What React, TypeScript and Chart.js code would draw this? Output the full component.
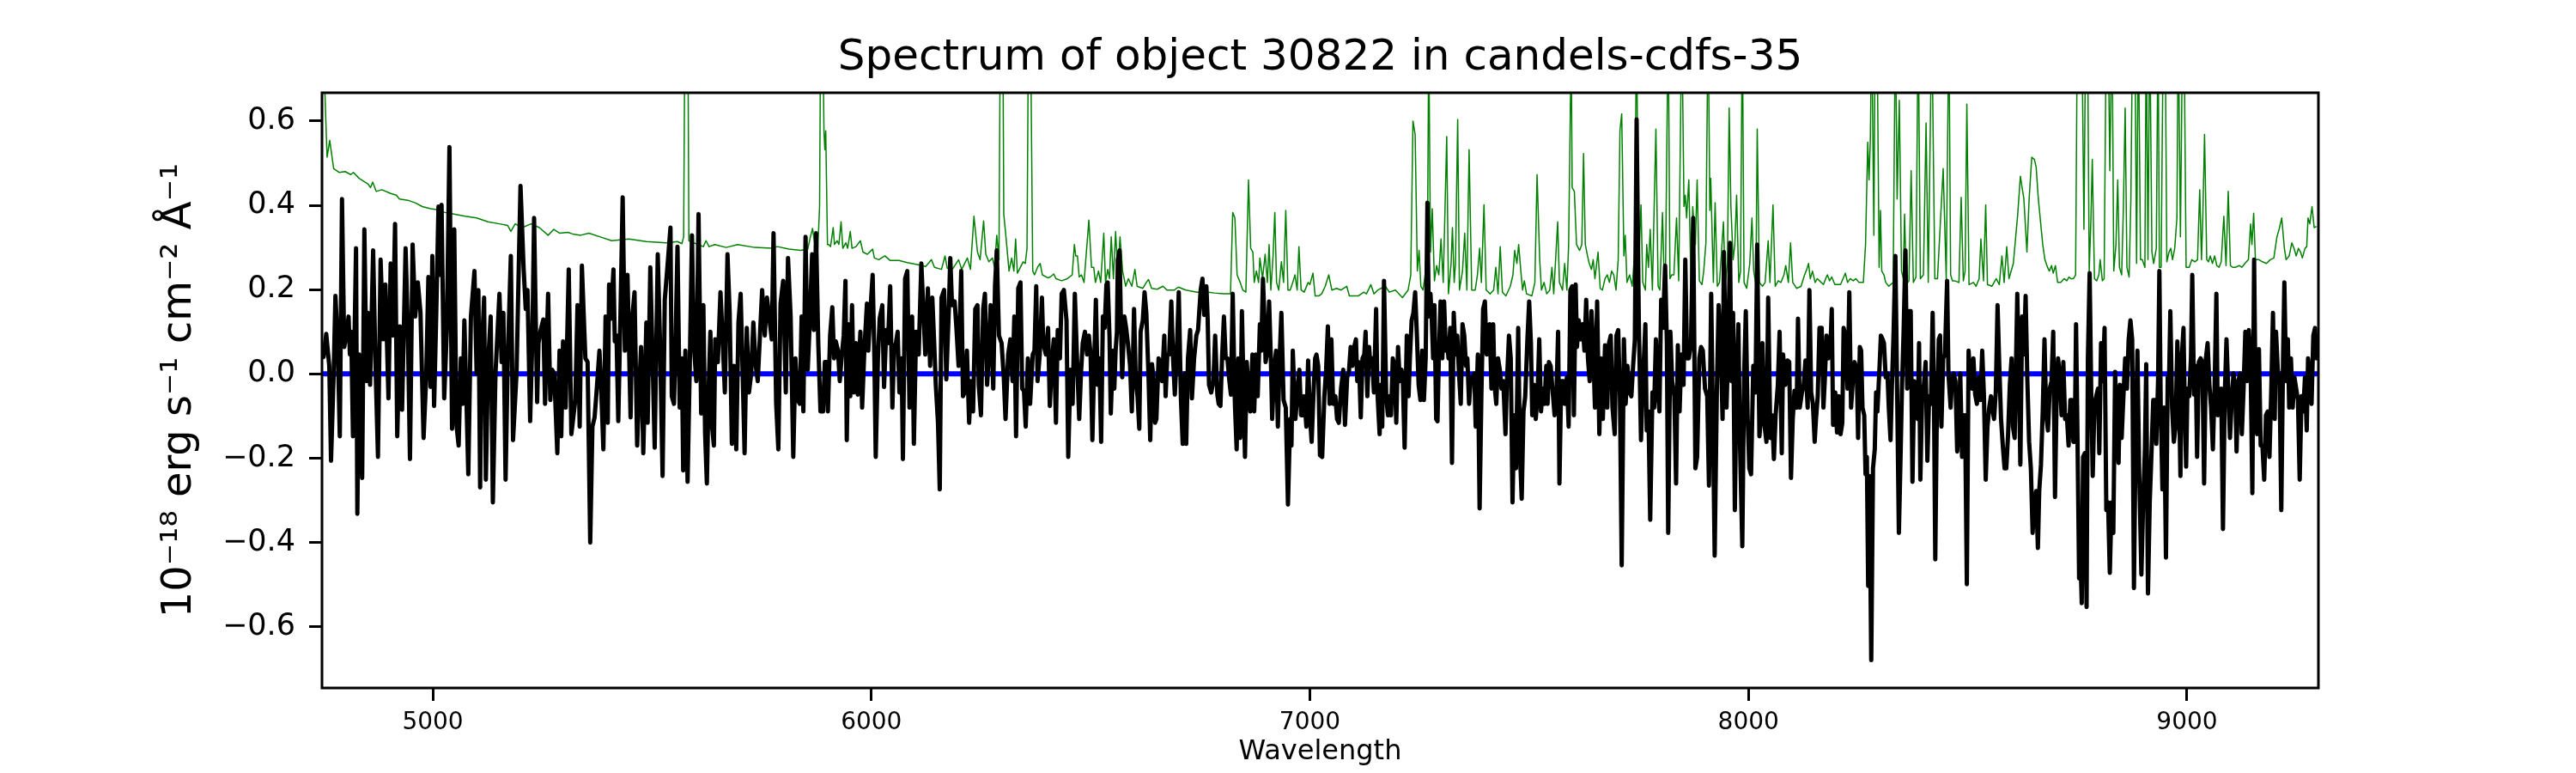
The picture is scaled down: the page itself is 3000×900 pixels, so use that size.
import React, { useEffect, useRef } from "react";
import { Chart, registerables } from "chart.js";

Chart.register(...registerables);

const TITLE = "Spectrum of object 30822 in candels-cdfs-35";
const X_LABEL = "Wavelength";
const Y_LABEL = "10⁻¹⁸ erg s⁻¹ cm⁻² Å⁻¹";
const X_MIN = 4747.4;
const X_MAX = 9299.6;
const Y_MIN = -0.745;
const Y_MAX = 0.667;
const xTicks = [5000, 6000, 7000, 8000, 9000];
const yTicks = [-0.6, -0.4, -0.2, 0, 0.2, 0.4, 0.6];

// Observed flux (black)
const fluxWavelength = [
  4748, 4751, 4757, 4764, 4768, 4774, 4778, 4783, 4788, 4793, 4798, 4803, 4808, 4811, 4814, 4818, 4821, 4825, 4828, 4832,
  4839, 4844, 4849, 4852, 4857, 4864, 4869, 4875, 4881, 4887, 4892, 4899, 4904, 4909, 4914, 4919, 4925, 4930, 4938, 4943,
  4948, 4954, 4960, 4966, 4972, 4979, 4985, 4990, 4995, 4999, 5003, 5008, 5013, 5016, 5020, 5026, 5032, 5038, 5044, 5049,
  5054, 5059, 5064, 5068, 5072, 5077, 5081, 5087, 5095, 5100, 5104, 5108, 5111, 5117, 5121, 5126, 5132, 5137, 5143, 5152,
  5157, 5161, 5166, 5171, 5178, 5183, 5191, 5200, 5207, 5212, 5216, 5222, 5227, 5231, 5238, 5241, 5246, 5252, 5256, 5263,
  5268, 5272, 5277, 5284, 5289, 5293, 5297, 5303, 5310, 5316,
  5325, 5330, 5335, 5340, 5344, 5348, 5353, 5359, 5364, 5369, 5374, 5380, 5384, 5389, 5394, 5399, 5402, 5406, 5412, 5415,
  5419, 5423, 5428, 5433, 5438, 5444, 5451, 5455, 5460, 5466, 5470, 5475, 5480, 5487, 5490, 5496, 5501, 5506, 5513, 5518,
  5524, 5529, 5535, 5542, 5545, 5550, 5553, 5558, 5563, 5568, 5571, 5576, 5581, 5586, 5591, 5595, 5601, 5606, 5612, 5617,
  5621, 5625, 5629, 5633, 5636, 5641, 5644, 5650, 5656, 5661, 5666, 5672, 5677, 5682, 5687, 5692, 5697, 5702, 5706, 5711,
  5716, 5721, 5726, 5731, 5736, 5741, 5746, 5751, 5757, 5762, 5768, 5773, 5777, 5783, 5788, 5793, 5799, 5805, 5810, 5816,
  5822, 5827, 5832, 5837, 5841, 5845, 5850, 5855, 5859, 5865, 5869, 5874, 5879, 5884,
  5890, 5894, 5898, 5901, 5906, 5911, 5915, 5919, 5924, 5928, 5932, 5937, 5941, 5944, 5948, 5952, 5956, 5960, 5965, 5969,
  5975, 5979, 5984, 5990, 5993, 5997, 6003, 6007, 6010, 6015, 6019, 6025, 6029, 6034, 6038, 6043, 6048, 6052, 6056, 6060,
  6064, 6069, 6072, 6077, 6082, 6087, 6093, 6097, 6102, 6108, 6114, 6119, 6123, 6129, 6134, 6139, 6143, 6147, 6152, 6156,
  6160, 6166, 6171, 6177, 6180, 6184, 6190, 6194, 6199, 6205, 6209, 6214, 6218, 6223, 6227, 6232, 6237, 6242, 6245, 6250,
  6255, 6259, 6264, 6268, 6272, 6278, 6282, 6286, 6291, 6297, 6302, 6306, 6312, 6317, 6322, 6326, 6330, 6335, 6340, 6344,
  6348, 6352, 6357, 6362, 6368, 6372, 6376, 6379, 6384, 6389, 6392, 6398, 6403, 6407, 6411, 6416, 6421, 6425, 6430, 6434,
  6439, 6445, 6449, 6454,
  6459, 6464, 6469, 6474, 6478, 6482, 6487, 6492, 6496, 6500, 6504, 6508, 6512, 6516, 6520, 6524, 6528, 6532, 6536, 6539,
  6543, 6546, 6551, 6554, 6557, 6560, 6562, 6566, 6569, 6572, 6577, 6581, 6585, 6590, 6594, 6597, 6599, 6603, 6607, 6611,
  6614, 6619, 6623, 6627, 6632, 6636, 6640, 6644, 6647, 6650, 6655, 6659, 6663, 6668, 6671, 6675, 6679, 6684, 6688, 6692,
  6696, 6701, 6706, 6710, 6715, 6718, 6722, 6727, 6731, 6736, 6741, 6745, 6751, 6755, 6759, 6764, 6767, 6770, 6775, 6780,
  6784, 6789, 6792, 6796, 6800, 6804, 6808, 6812, 6816, 6820, 6824, 6829, 6833, 6837, 6841, 6845, 6849, 6852, 6856, 6860,
  6864, 6869, 6873, 6877, 6881, 6886, 6889, 6893, 6897, 6899, 6903, 6907, 6911, 6914, 6919, 6923, 6927, 6931, 6935, 6940,
  6945, 6950, 6955, 6958, 6961, 6967, 6971, 6976, 6980, 6984, 6987, 6992, 6996, 7000, 7004, 7008, 7012, 7015, 7019, 7023,
  7028, 7033, 7037, 7041, 7045, 7049, 7053, 7058, 7062, 7066, 7071, 7076, 7080, 7085, 7089, 7093, 7097, 7101, 7105, 7108,
  7112, 7116, 7120, 7124, 7127, 7131, 7135, 7138, 7142, 7146, 7151, 7154, 7159, 7162, 7165, 7169, 7174, 7178, 7181, 7185,
  7189, 7193, 7197, 7201, 7205, 7209, 7212, 7216, 7221, 7225, 7228, 7232, 7236, 7240, 7244, 7248, 7252, 7256, 7260, 7264,
  7268, 7271, 7275, 7278, 7281, 7284, 7288, 7291, 7294, 7298, 7302, 7306, 7310, 7313, 7316, 7320, 7324, 7328, 7332, 7336,
  7340, 7344, 7348, 7352, 7356, 7359, 7363, 7367, 7371, 7375, 7378, 7383, 7387, 7391, 7395, 7399, 7403, 7406, 7410, 7414,
  7418, 7421, 7425, 7429, 7433, 7437, 7441, 7446, 7449, 7454, 7458, 7462, 7466, 7470, 7475, 7479, 7483, 7487, 7491, 7496,
  7500, 7504, 7507, 7512, 7515, 7519, 7523, 7527, 7531, 7535, 7539, 7542, 7545, 7549, 7553, 7558, 7562, 7566, 7569, 7573,
  7578, 7581, 7586, 7590, 7594,
  7598, 7602, 7606, 7609, 7613, 7618, 7622, 7626, 7630, 7634, 7638, 7642, 7646, 7650, 7655, 7660, 7664, 7668, 7673, 7678,
  7682, 7686, 7690, 7695, 7699, 7703, 7707, 7711, 7716, 7720, 7724, 7729, 7733, 7737, 7741, 7745, 7750, 7755, 7759, 7765,
  7768, 7772, 7776, 7781, 7785, 7789, 7793, 7797, 7801, 7805, 7810, 7814, 7817, 7822, 7826, 7831, 7835, 7839, 7843, 7847,
  7852, 7856, 7860, 7864, 7869, 7874, 7879, 7883, 7888, 7892, 7896, 7901, 7906, 7910, 7915, 7919, 7923, 7928, 7932, 7937,
  7941, 7944, 7950, 7954, 7958, 7961, 7965, 7969, 7973, 7977, 7981, 7986, 7990, 7994, 7998, 8002, 8006, 8011, 8016, 8020,
  8025, 8028, 8032, 8036, 8041, 8045, 8050, 8054, 8058, 8062, 8067, 8071, 8076, 8079, 8084, 8089, 8093, 8097, 8101, 8105,
  8110, 8113, 8117, 8122, 8126, 8130, 8135, 8139, 8143, 8147, 8151, 8154, 8158, 8162,
  8167, 8171, 8174, 8178, 8182, 8187, 8190, 8193, 8198, 8202, 8206, 8210, 8214, 8217, 8221, 8226, 8230, 8234, 8238, 8242,
  8247, 8250, 8254, 8257, 8260, 8264, 8267, 8270, 8273, 8276, 8280, 8284, 8288, 8291, 8294, 8299, 8302, 8306, 8309, 8313,
  8317, 8320, 8324, 8327, 8331, 8335, 8339, 8343, 8347, 8350, 8354, 8358, 8362, 8366, 8370, 8374, 8378, 8382, 8386, 8389,
  8392, 8396, 8400, 8404, 8408, 8412, 8416, 8420, 8423, 8426, 8429, 8434, 8437, 8440, 8444, 8448, 8453, 8456, 8461, 8464,
  8468, 8472, 8476, 8480, 8483, 8487, 8490, 8494, 8498, 8502, 8506, 8510, 8513, 8517, 8521, 8525, 8529, 8533, 8537, 8541,
  8545, 8549, 8553, 8556, 8560, 8564, 8568, 8572, 8576, 8580, 8584, 8588, 8592, 8596, 8600, 8603, 8607, 8613, 8616, 8620,
  8624, 8628, 8632, 8636, 8640, 8644, 8648, 8652, 8656, 8660, 8663, 8667, 8671, 8675, 8679, 8683, 8687, 8691, 8695, 8699,
  8703, 8706, 8710, 8714, 8718, 8722, 8726, 8730, 8734,
  8737, 8741, 8744, 8747, 8750, 8754, 8757, 8760, 8763, 8767, 8771, 8774, 8778, 8782, 8785, 8789, 8793, 8797, 8800, 8804,
  8808, 8812, 8816, 8820, 8824, 8828, 8832, 8836, 8840, 8844, 8847, 8851, 8855, 8859, 8863, 8867, 8871, 8875, 8879, 8883,
  8887, 8891, 8896, 8900, 8904, 8907, 8911, 8915, 8919, 8923, 8927, 8930, 8934, 8937, 8940, 8944, 8948, 8952, 8956, 8959,
  8962, 8966, 8970, 8974, 8978, 8982, 8985, 8988, 8992, 8995, 8998, 9001, 9005, 9009, 9012, 9016, 9020, 9023, 9027, 9031,
  9035, 9039, 9043, 9047, 9051, 9055, 9059, 9063, 9067, 9070, 9074, 9078, 9082, 9086, 9090, 9094, 9098, 9102, 9106, 9110,
  9113, 9117, 9121, 9125, 9129, 9133, 9137, 9141, 9145, 9149, 9153, 9156, 9160, 9164, 9168, 9172, 9176, 9180, 9184, 9188,
  9192, 9196, 9200, 9203, 9207, 9211, 9215, 9219, 9222, 9226, 9230, 9233, 9237, 9241, 9245, 9249, 9253, 9257, 9261, 9265,
  9269, 9273, 9276, 9280, 9284, 9288, 9292, 9295,
];
const flux = [
  0.05, 0.04, 0.095, 0.019, -0.206, 0.001, 0.185, 0.082, -0.148, 0.415, 0.064, 0.091, 0.136, 0.046, 0.1, -0.148, 0.046, 0.298, -0.332, 0.046,
  -0.247, 0.343, -0.017, 0.145, -0.026, 0.293, 0.037, -0.197, 0.271, 0.082, 0.212, -0.058, 0.262, 0.091, 0.356, -0.148, 0.113, -0.085, 0.298, 0.113,
  -0.202, 0.307, 0.136, 0.217, 0.145, -0.152, -0.008, 0.23, -0.031, 0.28, -0.076, 0.145, 0.397, 0.235, 0.401, -0.058, 0.104, 0.538, -0.13, 0.343,
  -0.121, -0.17, 0.037, -0.071, 0.127, -0.071, -0.238, 0.136, 0.244, 0.001, 0.199, -0.269, 0.037, 0.181, -0.251, 0.023, 0.136, -0.305, 0.001, 0.19,
  0.028, 0.145, -0.251, 0.037, 0.28, -0.157, 0.001, 0.446, 0.253, 0.154, 0.199, -0.112, 0.082, 0.37, -0.067, 0.073, 0.104, 0.129, -0.071, 0.19,
  -0.062, 0.01, 0.001, -0.188, 0.055, -0.148, 0.077, -0.08, 0.248, -0.143,
  -0.062, 0.163, -0.125, 0.257, 0.145, 0.037, 0.028, -0.4, -0.125, -0.103, -0.035, 0.055, -0.035, -0.179, 0.136, -0.116, 0.212, 0.131, 0.248, 0.077,
  0.091, -0.112, 0.145, 0.419, 0.055, 0.235, -0.103, 0.136, 0.194, -0.17, -0.053, 0.064, -0.188, 0.122, -0.116, 0.253, 0.046, -0.175, 0.284, 0.082,
  -0.242, 0.176, 0.253, 0.347, -0.053, -0.071, 0.046, 0.302, -0.08, 0.037, -0.229, 0.055, -0.256, 0.019, 0.329, 0.073, -0.017, 0.379, -0.094, 0.163,
  -0.143, -0.26, -0.035, 0.1, -0.116, -0.17, 0.082, 0.028, 0.194, 0.082, -0.044, 0.284, 0.145, -0.166, 0.019, -0.179, 0.122, 0.19, 0.028, -0.188,
  0.109, -0.044, 0.001, 0.122, 0.023, -0.017, 0.091, 0.199, 0.091, 0.181, 0.127, 0.082, 0.334, -0.071, -0.179, 0.167, 0.221, -0.044, 0.275, 0.136,
  -0.197, 0.037, -0.062, -0.071, 0.136, -0.089, 0.325, 0.01, 0.109, 0.284, 0.104, 0.334, 0.073, -0.089,
  -0.089, 0.028, 0.028, -0.089, 0.091, 0.158, 0.037, 0.077, 0.055, -0.017, 0.037, 0.091, 0.221, -0.157, 0.118, -0.053, 0.163, -0.044, 0.073, -0.049,
  0.1, -0.08, 0.055, 0.167, 0.055, 0.136, 0.235, 0.037, -0.197, 0.037, 0.131, 0.163, -0.031, 0.104, 0.073, 0.208, -0.08, 0.064, 0.073, 0.1,
  -0.044, 0.037, -0.202, 0.226, 0.244, -0.08, 0.136, -0.166, 0.1, 0.046, 0.262, 0.145, 0.046, 0.203, 0.019, 0.181, 0.082, -0.026, -0.116, -0.274,
  0.181, 0.199, -0.013, 0.163, 0.275, 0.163, 0.172, 0.109, 0.019, 0.244, -0.053, -0.04, 0.055, -0.116, -0.017, -0.089, 0.154, 0.163, -0.026, -0.098,
  0.154, 0.19, -0.026, 0.046, 0.163, -0.035, 0.208, 0.293, 0.091, 0.073, -0.008, -0.107, 0.046, 0.082, -0.017, 0.136, -0.148, 0.203, 0.217, -0.035,
  -0.04, -0.125, 0.037, -0.071, 0.046, 0.055, 0.208, -0.017, 0.046, 0.181, 0.073, 0.046, 0.109, -0.076, 0.019, 0.082, -0.116, 0.104, 0.037, 0.19,
  0.199, 0.127, -0.197, 0.01,
  -0.071, 0.19, 0.037, -0.107, 0.001, 0.073, 0.1, 0.046, 0.091, 0.046, -0.157, 0.019, 0.176, -0.026, 0.037, -0.161, 0.136, 0.109, 0.212, 0.217,
  0.091, -0.094, 0.055, -0.035, 0.055, 0.1, 0.271, 0.293, 0.127, -0.008, 0.136, 0.109, 0.073, 0.019, -0.089, 0.055, 0.154, -0.017, -0.053, -0.13,
  0.1, 0.127, 0.194, 0.145, -0.004, -0.157, 0.023, -0.017, -0.116, -0.107, 0.037, 0.028, -0.017, 0.091, -0.053, 0.046, 0.046, 0.172, 0.037, -0.049,
  0.037, 0.194, -0.062, -0.166, 0.001, -0.166, 0.037, 0.104, -0.058, 0.037, 0.091, 0.104, 0.199, 0.226, 0.14, 0.208, 0.127, -0.026, -0.044, -0.017,
  0.091, -0.049, -0.071, -0.076, 0.046, 0.136, 0.037, 0.037, -0.013, -0.049, 0.19, -0.071, -0.179, 0.037, -0.152, 0.149, -0.053, -0.197, 0.028, -0.035,
  -0.089, 0.046, -0.089, 0.046, -0.053, 0.118, 0.055, 0.226, 0.113, 0.028, 0.055, 0.172, 0.037, -0.107, 0.019, 0.055, -0.125, 0.037, 0.145, -0.062,
  -0.08, -0.31, -0.107, -0.17, 0.055, -0.107, -0.053, 0.01, -0.098, -0.098, -0.053, -0.125, 0.032, -0.098, -0.161, -0.053, 0.037, 0.046, 0.019, -0.193,
  -0.197, -0.053, 0.01, 0.113, -0.071, 0.082, -0.071, -0.053, -0.107, -0.116, -0.035, 0.01, -0.121, -0.008, 0.005, 0.064, 0.019, 0.064, 0.082, -0.017,
  0.028, -0.103, 0.037, 0.046, 0.1, -0.053, 0.064, 0.019, 0.037, -0.044, 0.154, -0.044, -0.143, -0.026, -0.125, 0.221, -0.053, -0.098, -0.053, -0.098,
  0.037, 0.019, -0.116, 0.064, -0.017, 0.01, -0.017, -0.175, 0.091, -0.053, 0.037, 0.127, 0.145, 0.194, 0.091, -0.026, -0.062, 0.055, -0.062, 0.037,
  0.406, 0.136, 0.19, 0.127, 0.037, 0.163, -0.107, -0.112, 0.037, 0.172, 0.037, 0.172, 0.055, 0.082, 0.037, 0.109, -0.211, 0.145, 0.046, 0.091,
  0.001, -0.071, 0.118, 0.091, 0.019, 0.037, -0.071, -0.008, -0.017, 0.001, -0.125, 0.046, -0.319, -0.053, 0.154, 0.172, 0.046, 0.091, 0.118, -0.035,
  0.118, -0.026, -0.071, 0.037, 0.01, -0.035, -0.017, -0.143, -0.026, 0.091, 0.037, -0.305, -0.098, -0.224, 0.109, -0.188, -0.296, -0.089, -0.053, 0.082,
  0.172, 0.073, -0.098, -0.026, -0.107, -0.053, 0.082, -0.089, -0.035, -0.071, 0.019, -0.071, 0.028, 0.019, -0.035, -0.098, -0.053, 0.1, -0.26, -0.017,
  -0.017, -0.071, -0.008, -0.125, 0.199,
  0.208, -0.098, 0.212, 0.064, 0.127, 0.082, 0.118, 0.055, 0.176, 0.037, -0.017, 0.149, 0.064, -0.08, 0.172, -0.143, 0.037, -0.107, 0.068, -0.08,
  0.073, 0.091, -0.08, -0.143, 0.091, 0.104, -0.053, -0.454, 0.082, -0.071, 0.019, -0.044, -0.053, 0.019, 0.082, 0.604, 0.127, -0.157, -0.026, 0.118,
  -0.134, -0.089, -0.346, -0.044, -0.08, 0.082, -0.035, -0.089, 0.176, 0.109, 0.257, 0.073, -0.377, 0.1, -0.017, -0.053, -0.26, 0.068, -0.089, 0.046,
  -0.026, 0.271, 0.037, 0.037, 0.073, 0.37, -0.224, -0.197, 0.037, 0.064, 0.055, -0.035, -0.053, -0.265, 0.19, -0.107, -0.431, -0.035, 0.163, 0.055,
  -0.107, 0.289, -0.08, 0.073, 0.311, -0.017, 0.145, -0.323, 0.001, 0.118, -0.179, -0.409, -0.008, 0.149, -0.098, -0.224, -0.238, 0.019, -0.044, 0.307,
  -0.148, -0.107, 0.073, -0.116, -0.161, 0.181, -0.152, -0.098, -0.202, -0.098, -0.026, 0.1, -0.188, 0.046, -0.026, 0.032, 0.028, -0.247, -0.107, -0.04,
  -0.08, 0.131, -0.08, -0.044, -0.026, 0.032, -0.08, 0.199, -0.044, -0.071, -0.161, -0.107, -0.053, 0.109,
  0.109, -0.08, -0.017, 0.091, 0.037, 0.064, 0.154, -0.121, -0.044, -0.139, -0.053, -0.143, -0.116, 0.109, 0.091, -0.035, 0.194, -0.08, -0.017, 0.028,
  0.01, -0.152, 0.064, 0.055, -0.08, -0.098, -0.238, -0.197, -0.503, -0.242, -0.679, -0.224, -0.179, -0.044, -0.089, 0.019, 0.091, 0.082, 0.073, -0.008,
  0.001, -0.08, -0.157, -0.035, 0.1, 0.28, -0.035, -0.377, -0.188, -0.035, 0.109, 0.293, -0.035, 0.149, 0.149, -0.256, -0.017, -0.026, -0.107, 0.073,
  -0.251, -0.053, -0.026, 0.028, -0.206, -0.053, -0.071, 0.145, -0.053, -0.44, -0.143, 0.082, 0.091, -0.125, 0.037, 0.046, 0.221, 0.001, -0.08, -0.017,
  0.001, -0.017, -0.184, -0.107, 0.001, -0.197, -0.098, -0.098, -0.499, 0.055, -0.017, -0.035, 0.037, -0.049, -0.071, -0.008, -0.062, 0.055, -0.053, -0.251,
  -0.125, -0.08, -0.053, -0.08, -0.107, -0.044, 0.163, 0.019, -0.107, -0.17, -0.224, -0.224, -0.143, -0.026, 0.037, -0.125, -0.152, 0.19, 0.037, -0.215,
  0.136, 0.046, 0.185, -0.017, -0.161, -0.224, -0.377, -0.305, -0.278, -0.413, -0.278, -0.215, -0.089, 0.082, -0.098, -0.134, -0.035, -0.017, 0.1, -0.292,
  -0.035, 0.037, -0.008, -0.098, 0.028, -0.107, -0.098, -0.17, -0.062,
  -0.062, -0.161, -0.161, 0.118, -0.125, -0.485, -0.431, -0.544, -0.197, -0.188, -0.553, 0.037, 0.239, -0.071, -0.242, -0.071, -0.053, -0.035, -0.188, 0.073,
  -0.017, 0.109, -0.323, -0.305, -0.472, -0.305, -0.377, 0.005, -0.116, -0.211, -0.026, -0.152, -0.053, 0.037, -0.035, 0.082, 0.127, 0.082, -0.508, -0.134,
  0.055, -0.233, -0.476, -0.305, -0.179, 0.023, -0.521, -0.305, -0.188, -0.062, -0.062, -0.166, -0.017, 0.244, -0.071, -0.274, -0.08, -0.436, -0.008, -0.017,
  0.149, -0.08, -0.161, -0.125, 0.077, -0.053, -0.242, 0.037, 0.109, -0.089, -0.22, -0.035, -0.053, 0.037, 0.235, -0.049, 0.019, -0.197, 0.028, 0.037,
  0.028, -0.26, 0.037, 0.073, -0.026, -0.08, -0.179, -0.026, 0.19, -0.098, -0.062, -0.035, -0.368, -0.053, 0.082, -0.035, -0.152, -0.062, 0.001, -0.035,
  -0.184, -0.017, 0.001, -0.143, -0.035, 0.1, -0.017, 0.104, 0.019, -0.283, 0.271, -0.026, -0.143, 0.059, -0.17, -0.17, -0.251, -0.098, -0.089, -0.197,
  -0.044, 0.145, -0.107, 0.1, 0.01, -0.017, -0.323, 0.037, 0.217, -0.017, 0.082, -0.08, 0.037, -0.08, -0.008, -0.035, -0.062, -0.251, -0.053, -0.089,
  -0.008, -0.134, 0.037, -0.017, -0.071, 0.091, 0.109, 0.037,
];

// Sky / noise spectrum (green)
const skyWavelength = [
  4748, 4754, 4759, 4765, 4774, 4787, 4800, 4813, 4819, 4832, 4852, 4858, 4863, 4871, 4884, 4904, 4917, 4924, 4943, 4960,
  4976, 4995, 5008, 5028, 5048, 5074, 5100, 5126, 5152, 5171, 5178, 5188, 5204, 5224, 5243, 5263, 5276, 5289, 5308, 5319,
  5337, 5356, 5382, 5408, 5447, 5487, 5532, 5558, 5568, 5572, 5575, 5578, 5582, 5584, 5604, 5617, 5623, 5630, 5643, 5669,
  5695, 5734, 5773, 5786, 5812, 5839, 5855, 5861, 5866, 5871, 5878, 5882, 5884,
  5888, 5892, 5894, 5896, 5900, 5903, 5907, 5913, 5916, 5922, 5926, 5931, 5935, 5942, 5946, 5952, 5956, 5965, 5975, 5981,
  5991, 6003, 6007, 6017, 6031, 6043, 6063, 6082, 6102, 6115, 6124, 6137, 6144, 6160, 6168, 6173, 6186, 6199, 6206, 6219,
  6226, 6234, 6242, 6248, 6256, 6261, 6268, 6276, 6281, 6286, 6291, 6295, 6299, 6302, 6307, 6314, 6320, 6325, 6329, 6333,
  6340, 6346, 6351, 6355, 6359, 6362, 6368, 6372, 6379, 6385, 6390, 6402, 6408, 6416, 6421, 6434, 6447, 6458,
  6463, 6466, 6470, 6474, 6479, 6485, 6496, 6502, 6507, 6511, 6518, 6523, 6530, 6534, 6539, 6543, 6547, 6552, 6557, 6562,
  6567, 6573, 6580, 6586, 6594, 6601, 6606, 6619, 6627, 6632, 6639, 6652, 6665, 6674, 6691, 6700, 6717, 6743, 6769, 6782,
  6802, 6819, 6824, 6829, 6834, 6841, 6847, 6854, 6860, 6865, 6870, 6873, 6878, 6883, 6886, 6892, 6898, 6903, 6907, 6911,
  6916, 6920, 6924, 6929, 6935, 6940, 6945, 6950, 6955, 6961, 6966, 6971, 6975, 6980, 6987, 6996, 7000, 7007, 7012, 7020,
  7027, 7035, 7043, 7050, 7061, 7071, 7084, 7090, 7110, 7123, 7129, 7139, 7146, 7155, 7172, 7181, 7195, 7211, 7224, 7230,
  7235, 7240, 7245, 7249, 7253, 7258, 7264, 7268, 7271, 7275, 7279, 7284, 7289, 7294, 7299, 7304, 7307, 7312, 7316, 7322,
  7325, 7329, 7332, 7337, 7341, 7348, 7353, 7358, 7363, 7369, 7377, 7382, 7387, 7391, 7397, 7402, 7411, 7419, 7424, 7429,
  7434, 7439, 7447, 7457, 7463, 7467, 7472, 7476, 7481, 7485, 7489, 7494, 7506, 7513, 7518, 7524, 7528, 7534, 7540, 7547,
  7552, 7556, 7565, 7569, 7576, 7581, 7586, 7590, 7594, 7596,
  7598, 7603, 7608, 7615, 7620, 7624, 7628, 7633, 7637, 7642, 7646, 7650, 7657, 7662, 7667, 7673, 7678, 7683, 7688, 7693,
  7698, 7703, 7707, 7711, 7716, 7719, 7723, 7729, 7735, 7740, 7745, 7749, 7755, 7759, 7765, 7768, 7772, 7776, 7781, 7785,
  7789, 7794, 7798, 7804, 7808, 7811, 7817, 7821, 7825, 7830, 7836, 7841, 7848, 7853, 7856, 7859, 7864, 7869, 7873, 7879,
  7883, 7888, 7894, 7898, 7903, 7908, 7912, 7914, 7920, 7924, 7929, 7934, 7943, 7947, 7952, 7956, 7960, 7965, 7969, 7973,
  7978, 7982, 7986, 7990, 7996, 8003, 8008, 8012, 8017, 8020, 8025, 8032, 8038, 8045, 8049, 8056, 8061, 8068, 8074, 8081,
  8085, 8091, 8096, 8101, 8110, 8120, 8128, 8133, 8137, 8141, 8146, 8152, 8157, 8166,
  8171, 8176, 8180, 8185, 8190, 8197, 8210, 8221, 8226, 8232, 8239, 8245, 8252, 8262, 8267, 8272, 8275, 8278, 8281, 8286,
  8289, 8293, 8298, 8301, 8304, 8309, 8313, 8320, 8330, 8335, 8339, 8344, 8349, 8353, 8356, 8360, 8366, 8371, 8376, 8382,
  8387, 8392, 8399, 8405, 8410, 8418, 8425, 8431, 8444, 8451, 8457, 8461, 8465, 8470, 8480, 8485, 8490, 8494, 8498, 8503,
  8513, 8519, 8526, 8530, 8536, 8541, 8545, 8555, 8565, 8572, 8578, 8583, 8589, 8594, 8604, 8614, 8620, 8628, 8635, 8640,
  8646, 8652, 8656, 8661, 8666, 8671, 8676, 8682, 8686, 8691, 8695, 8700, 8705, 8712, 8720, 8726, 8731, 8735,
  8741, 8746, 8750, 8755, 8760, 8765, 8769, 8773, 8777, 8781, 8784, 8789, 8794, 8799, 8802, 8807, 8811, 8816, 8820, 8824,
  8829, 8833, 8838, 8842, 8846, 8851, 8855, 8859, 8863, 8868, 8872, 8876, 8881, 8885, 8889, 8894, 8898, 8904, 8907, 8911,
  8915, 8920, 8924, 8930, 8934, 8937, 8941, 8946, 8950, 8954, 8959, 8963, 8967, 8972, 8977, 8980, 8985, 8990, 8993, 8998,
  9005, 9011, 9018, 9024, 9029, 9033, 9036, 9040, 9045, 9049, 9053, 9058, 9063, 9068, 9073, 9078, 9084, 9089, 9094, 9099,
  9104, 9111, 9119, 9125, 9132, 9140, 9145, 9148, 9152, 9156, 9164, 9172, 9181, 9190, 9198, 9205, 9210, 9216, 9222, 9226,
  9233, 9239, 9244, 9249, 9254, 9259, 9263, 9269, 9273, 9276, 9280, 9285, 9290, 9295,
];
const sky = [
  0.76, 0.667, 0.514, 0.554, 0.487, 0.478, 0.48, 0.473, 0.478, 0.464, 0.451, 0.442, 0.455, 0.433, 0.437, 0.428, 0.424, 0.415, 0.412, 0.406,
  0.397, 0.392, 0.39, 0.383, 0.379, 0.374, 0.37, 0.361, 0.356, 0.352, 0.338, 0.356, 0.347, 0.356, 0.347, 0.329, 0.343, 0.334, 0.336, 0.332,
  0.329, 0.334, 0.325, 0.316, 0.32, 0.314, 0.311, 0.314, 0.309, 0.325, 0.85, 0.94, 0.76, 0.316, 0.307, 0.302, 0.316, 0.302, 0.307, 0.3,
  0.307, 0.3, 0.298, 0.302, 0.296, 0.293, 0.296, 0.325, 0.345, 0.307, 0.298, 0.397, 0.76,
  0.94, 0.577, 0.532, 0.577, 0.307, 0.307, 0.302, 0.347, 0.307, 0.316, 0.307, 0.361, 0.298, 0.311, 0.298, 0.338, 0.298, 0.302, 0.316, 0.289,
  0.284, 0.296, 0.275, 0.271, 0.28, 0.269, 0.269, 0.264, 0.26, 0.257, 0.255, 0.271, 0.253, 0.248, 0.28, 0.251, 0.25, 0.271, 0.248, 0.275,
  0.248, 0.374, 0.289, 0.271, 0.363, 0.284, 0.266, 0.275, 0.253, 0.329, 0.271, 1.0, 1.0, 0.379, 0.325, 0.244, 0.275, 0.244, 0.32, 0.239,
  0.253, 0.266, 0.262, 0.298, 0.94, 0.94, 0.244, 0.235, 0.253, 0.262, 0.235, 0.228, 0.23, 0.237, 0.226, 0.221, 0.226, 0.235,
  0.307, 0.28, 0.28, 0.23, 0.235, 0.217, 0.365, 0.253, 0.253, 0.217, 0.244, 0.217, 0.334, 0.217, 0.248, 0.226, 0.325, 0.226, 0.338, 0.235,
  0.325, 0.244, 0.208, 0.226, 0.208, 0.248, 0.208, 0.203, 0.217, 0.224, 0.203, 0.201, 0.208, 0.199, 0.199, 0.206, 0.199, 0.194, 0.194, 0.192,
  0.19, 0.19, 0.383, 0.37, 0.235, 0.217, 0.199, 0.194, 0.46, 0.298, 0.289, 0.217, 0.244, 0.217, 0.275, 0.226, 0.284, 0.217, 0.307, 0.199,
  0.28, 0.383, 0.217, 0.199, 0.266, 0.217, 0.388, 0.199, 0.199, 0.217, 0.235, 0.199, 0.302, 0.199, 0.194, 0.217, 0.212, 0.239, 0.185, 0.185,
  0.19, 0.208, 0.235, 0.199, 0.203, 0.199, 0.208, 0.185, 0.185, 0.194, 0.19, 0.212, 0.19, 0.199, 0.208, 0.194, 0.199, 0.181, 0.199, 0.235,
  0.6, 0.568, 0.244, 0.293, 0.208, 0.199, 0.244, 0.28, 0.8, 0.289, 0.392, 0.221, 0.257, 0.235, 0.32, 0.217, 0.343, 0.563, 0.19, 0.262,
  0.347, 0.217, 0.262, 0.604, 0.199, 0.244, 0.334, 0.199, 0.532, 0.199, 0.199, 0.235, 0.298, 0.217, 0.401, 0.199, 0.19, 0.199, 0.253, 0.19,
  0.302, 0.194, 0.185, 0.208, 0.235, 0.293, 0.262, 0.307, 0.244, 0.199, 0.221, 0.19, 0.185, 0.217, 0.473, 0.271, 0.199, 0.217, 0.19, 0.199,
  0.253, 0.19, 0.361, 0.217, 0.199, 0.262, 0.199, 0.307, 0.64, 0.757,
  0.442, 0.433, 0.307, 0.293, 0.307, 0.523, 0.307, 0.28, 0.262, 0.248, 0.271, 0.226, 0.289, 0.203, 0.199, 0.226, 0.235, 0.217, 0.244, 0.235,
  0.199, 0.271, 0.577, 0.617, 0.28, 0.329, 0.217, 0.235, 0.208, 0.28, 0.847, 0.235, 0.401, 0.217, 0.199, 0.307, 0.253, 0.343, 0.199, 0.397,
  0.581, 0.208, 0.199, 0.383, 0.217, 0.257, 0.847, 0.226, 0.235, 0.235, 0.37, 0.221, 0.847, 0.397, 0.424, 0.37, 0.46, 0.217, 0.397, 0.307,
  0.46, 0.221, 0.212, 0.244, 0.311, 0.847, 0.388, 0.464, 0.217, 0.406, 0.208, 0.217, 0.361, 0.212, 0.262, 0.631, 0.397, 0.271, 0.307, 0.424,
  0.217, 0.244, 0.847, 0.217, 0.203, 0.262, 0.37, 0.244, 0.212, 0.581, 0.217, 0.208, 0.217, 0.316, 0.217, 0.401, 0.208, 0.221, 0.217, 0.235,
  0.257, 0.217, 0.311, 0.217, 0.203, 0.208, 0.235, 0.248, 0.262, 0.226, 0.244, 0.217, 0.226, 0.217,
  0.212, 0.226, 0.235, 0.221, 0.23, 0.212, 0.212, 0.239, 0.217, 0.226, 0.221, 0.226, 0.217, 0.217, 0.307, 0.55, 0.46, 0.559, 0.847, 0.329,
  0.847, 0.847, 0.253, 0.388, 0.244, 0.235, 0.217, 0.208, 0.217, 0.847, 0.415, 0.649, 0.244, 0.226, 0.379, 0.212, 0.221, 0.482, 0.217, 0.23,
  0.847, 0.226, 0.235, 0.595, 0.217, 0.847, 0.226, 0.226, 0.487, 0.226, 0.847, 0.235, 0.221, 0.221, 0.217, 0.419, 0.221, 0.244, 0.64, 0.212,
  0.217, 0.208, 0.226, 0.32, 0.221, 0.401, 0.212, 0.208, 0.226, 0.212, 0.28, 0.217, 0.302, 0.226, 0.262, 0.379, 0.469, 0.415, 0.289, 0.415,
  0.514, 0.509, 0.491, 0.415, 0.361, 0.307, 0.271, 0.253, 0.244, 0.257, 0.239, 0.257, 0.217, 0.217, 0.226, 0.221, 0.23, 0.226,
  0.226, 0.235, 0.847, 0.847, 0.847, 0.343, 0.847, 0.847, 0.244, 0.37, 0.509, 0.226, 0.221, 0.235, 0.271, 0.221, 0.226, 0.847, 0.847, 0.482,
  0.847, 0.244, 0.307, 0.46, 0.253, 0.235, 0.397, 0.631, 0.253, 0.23, 0.415, 0.847, 0.847, 0.262, 0.847, 0.271, 0.271, 0.253, 0.847, 0.271,
  0.847, 0.289, 0.262, 0.298, 0.847, 0.253, 0.253, 0.847, 0.847, 0.266, 0.289, 0.298, 0.271, 0.298, 0.37, 0.847, 0.325, 0.847, 0.847, 0.253,
  0.253, 0.271, 0.266, 0.271, 0.437, 0.271, 0.37, 0.568, 0.271, 0.266, 0.28, 0.262, 0.28, 0.257, 0.253, 0.266, 0.374, 0.257, 0.433, 0.257,
  0.253, 0.253, 0.257, 0.253, 0.262, 0.271, 0.356, 0.307, 0.381, 0.271, 0.271, 0.266, 0.262, 0.271, 0.275, 0.325, 0.343, 0.37, 0.298, 0.271,
  0.28, 0.311, 0.298, 0.28, 0.298, 0.289, 0.275, 0.298, 0.302, 0.37, 0.356, 0.397, 0.347, 0.35,
];

// Zero level (blue)
const zeroWavelength = [4747.4, 9299.6];
const zeroLevel = [0, 0];

const FONT = "'DejaVu Sans', sans-serif";

const toPoints = (xs: number[], ys: number[]) => xs.map((x, i) => ({ x, y: ys[i] }));

const framePlugin = {
  id: "axesFrame",
  afterDatasetsDraw(chart: any) {
    const { ctx, chartArea } = chart;
    ctx.save();
    ctx.strokeStyle = "#000";
    ctx.lineWidth = 3;
    ctx.strokeRect(
      chartArea.left,
      chartArea.top,
      chartArea.right - chartArea.left,
      chartArea.bottom - chartArea.top
    );
    ctx.restore();
  },
};

const fmtY = (v: number) => {
  const s = Math.abs(v) < 1e-9 ? "0.0" : v.toFixed(1);
  return s.replace("-", "\u2212");
};

export default function App() {
  const canvasRef = useRef<HTMLCanvasElement | null>(null);

  useEffect(() => {
    document.body.style.margin = "0";
    const canvas = canvasRef.current;
    if (!canvas) return;
    const chart = new Chart(canvas, {
      type: "line",
      data: {
        datasets: [
          {
            label: "flux",
            data: toPoints(fluxWavelength, flux),
            borderColor: "#000000",
            borderWidth: 5,
            pointRadius: 0,
            tension: 0,
            borderJoinStyle: "round",
            borderCapStyle: "round",
            order: 0,
          },
          {
            label: "zero",
            data: toPoints(zeroWavelength, zeroLevel),
            borderColor: "#0000ff",
            borderWidth: 6,
            pointRadius: 0,
            tension: 0,
            order: 1,
          },
          {
            label: "sky",
            data: toPoints(skyWavelength, sky),
            borderColor: "#008000",
            borderWidth: 1.5,
            pointRadius: 0,
            tension: 0,
            borderJoinStyle: "round",
            order: 2,
          },
        ],
      },
      options: {
        responsive: false,
        animation: false,
        devicePixelRatio: 1,
        layout: { padding: { top: 38, right: 300, bottom: 0, left: 0 } },
        plugins: {
          legend: { display: false },
          tooltip: { enabled: false },
          title: {
            display: true,
            fullSize: false,
            align: "center",
            text: TITLE,
            color: "#000",
            font: { family: FONT, size: 50, weight: "normal", lineHeight: 1.2 },
            padding: { top: 0, bottom: 10 },
          },
        },
        scales: {
          x: {
            type: "linear",
            min: X_MIN,
            max: X_MAX,
            afterBuildTicks: (axis: any) => {
              axis.ticks = xTicks.map((v) => ({ value: v }));
            },
            afterFit: (axis: any) => {
              axis.height = 99;
            },
            ticks: {
              color: "#000",
              font: { family: FONT, size: 28 },
              padding: 9,
              maxRotation: 0,
              autoSkip: false,
              callback: (v: any) => String(v),
            },
            grid: {
              display: true,
              drawOnChartArea: false,
              drawTicks: true,
              tickLength: 15,
              tickWidth: 3,
              tickColor: "#000",
            },
            border: { display: false },
            title: {
              display: true,
              text: X_LABEL,
              color: "#000",
              font: { family: FONT, size: 32, lineHeight: 1.2 },
              padding: { top: 0, bottom: 5 },
            },
          },
          y: {
            type: "linear",
            min: Y_MIN,
            max: Y_MAX,
            afterBuildTicks: (axis: any) => {
              axis.ticks = yTicks.map((v) => ({ value: v }));
            },
            afterFit: (axis: any) => {
              axis.width = 375;
            },
            ticks: {
              color: "#000",
              font: { family: FONT, size: 35 },
              padding: 16,
              autoSkip: false,
              callback: (v: any) => fmtY(Number(v)),
            },
            grid: {
              display: true,
              drawOnChartArea: false,
              drawTicks: true,
              tickLength: 15,
              tickWidth: 3,
              tickColor: "#000",
            },
            border: { display: false },
            title: {
              display: true,
              text: Y_LABEL,
              color: "#000",
              font: { family: FONT, size: 48, lineHeight: 1.2 },
              padding: { top: 181, bottom: 0 },
            },
          },
        },
      },
      plugins: [framePlugin],
    } as any);
    return () => chart.destroy();
  }, []);

  return (
    <div style={{ position: "absolute", left: 0, top: 0, width: 3000, height: 900, background: "#fff" }}>
      <canvas ref={canvasRef} width={3000} height={900} style={{ width: 3000, height: 900, display: "block" }} />
    </div>
  );
}
